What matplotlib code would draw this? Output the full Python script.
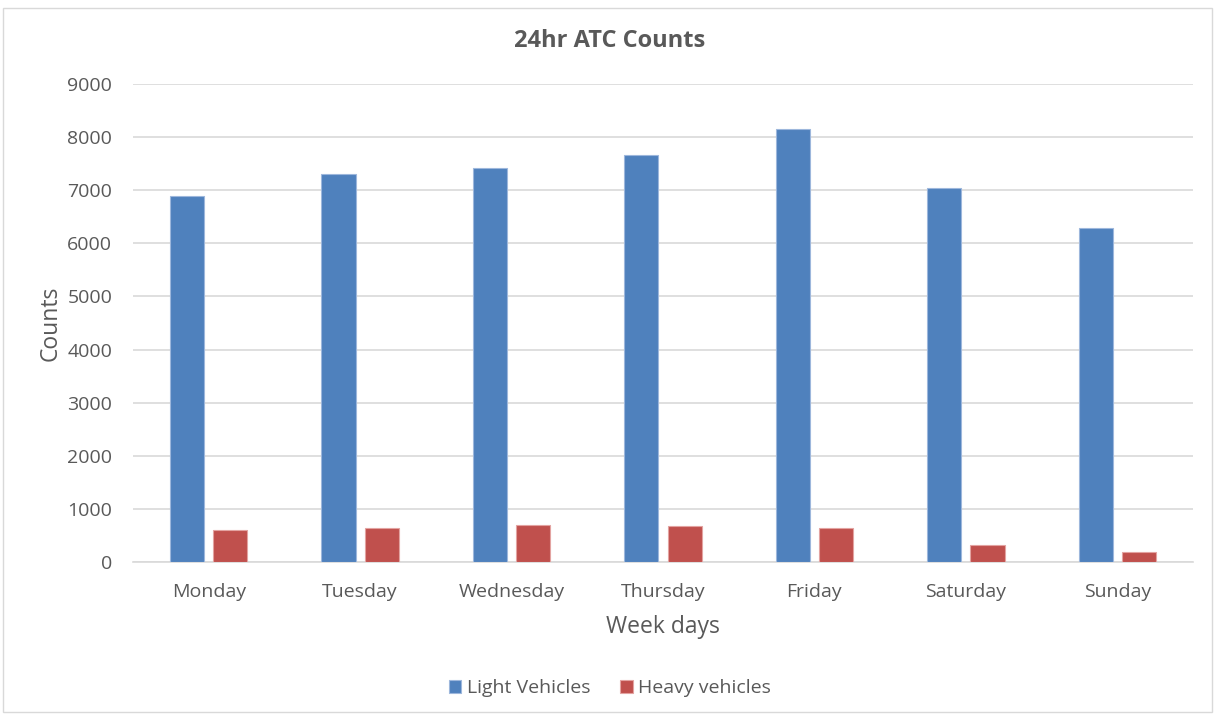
import matplotlib
matplotlib.use("Agg")
import matplotlib.pyplot as plt
import numpy as np
from matplotlib.patches import Rectangle

days = ["Monday", "Tuesday", "Wednesday", "Thursday", "Friday", "Saturday", "Sunday"]
light_vehicles = [6890, 7300, 7410, 7670, 8150, 7035, 6295]
heavy_vehicles = [610, 640, 700, 675, 640, 325, 185]
y_ticks = [0, 1000, 2000, 3000, 4000, 5000, 6000, 7000, 8000, 9000]

BLUE = "#4F81BD"
RED = "#C0504D"
TEXT = "#595959"
GRID = "#D9D9D9"

plt.rcParams["font.family"] = ["Open Sans", "DejaVu Sans"]

fig = plt.figure(figsize=(12.2, 7.15), dpi=100)
fig.patch.set_facecolor("white")
fig.add_artist(Rectangle((3 / 1220, 1 - 712 / 715), 1209 / 1220, 704 / 715,
                         transform=fig.transFigure, fill=False,
                         edgecolor="#D9D9D9", linewidth=1.0))

ax = fig.add_axes([133 / 1220, 1 - 562 / 715, 1060 / 1220, 478 / 715])
x = np.arange(len(days))
w = 0.225
off = 0.143
ax.bar(x - off, light_vehicles, w, color=BLUE, edgecolor="#9DB7DC",
       linewidth=0.8, label="Light Vehicles", zorder=3)
ax.bar(x + off, heavy_vehicles, w, color=RED, edgecolor="#E3A3A1",
       linewidth=0.8, label="Heavy vehicles", zorder=3)

ax.set_xlim(-0.5, len(days) - 0.5)
ax.set_ylim(0, 9000)
ax.set_yticks(y_ticks)
ax.set_yticklabels([str(v) for v in y_ticks])
ax.set_xticks(x)
ax.set_xticklabels(days)
ax.tick_params(axis="both", length=0, labelsize=14, colors=TEXT)
ax.tick_params(axis="y", pad=15)
ax.tick_params(axis="x", pad=15)
ax.grid(axis="y", color=GRID, linewidth=1.2, zorder=0)
for s in ["top", "right", "left"]:
    ax.spines[s].set_visible(False)
ax.spines["bottom"].set_color(GRID)
ax.spines["bottom"].set_linewidth(1.2)

ax.set_ylabel("Counts", fontsize=16.5, color=TEXT, labelpad=3)
ax.set_xlabel("Week days", fontsize=16.5, color=TEXT, labelpad=10)
fig.text(0.5, 1 - 41 / 715, "24hr ATC Counts", ha="center", va="center",
         fontsize=17, fontweight="bold", color=TEXT)

fig.legend(loc="center", bbox_to_anchor=(0.5, 1 - 688 / 715), ncol=2,
           frameon=False, fontsize=14, handlelength=0.65, handleheight=0.65,
           handletextpad=0.3, columnspacing=1.5, labelcolor=TEXT)

fig.savefig("out.png", dpi=100, facecolor="white")
